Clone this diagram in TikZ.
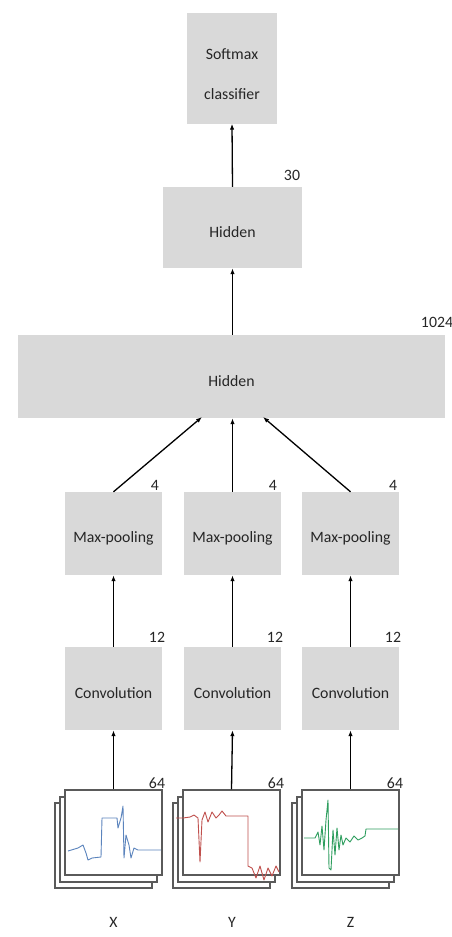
\documentclass[tikz,border=0pt]{standalone}
\usepackage{fontspec}
\setmainfont{Carlito}
\usetikzlibrary{arrows.meta}
\definecolor{boxgray}{HTML}{D9D9D9}
\definecolor{txt}{HTML}{262626}
\definecolor{frm}{HTML}{5A5A5A}
\definecolor{sigblue}{HTML}{5B84BD}
\definecolor{sigred}{HTML}{C0504D}
\definecolor{siggreen}{HTML}{2E9E5E}
\tikzset{
  layer/.style={fill=boxgray, draw=none, inner sep=0pt},
  ltext/.style={text=txt, inner sep=0pt, yshift=-5pt, font=\fontsize{15.8}{18}\selectfont},
  num/.style={text=txt, inner sep=0pt, font=\fontsize{15.8}{18}\selectfont},
  frame/.style={draw=frm, fill=white, line width=1.4pt, minimum width=97pt, minimum height=85pt, inner sep=0pt},
  conn/.style={line width=1.3pt, -{Latex[length=6pt,width=4.5pt]}},
  sig/.style={line width=0.9pt, line join=round}
}
\begin{document}
\begin{tikzpicture}[x=1pt,y=-1pt]
\useasboundingbox (0,0) rectangle (452,937);
% layers
\node[layer, minimum width=90pt, minimum height=111pt, label={[ltext, align=center, yshift=-1pt, font=\fontsize{15.8}{40}\selectfont]center:Softmax\\classifier}] (soft) at (232,68) {};
\node[layer, minimum width=139pt, minimum height=81pt, label={[ltext]center:Hidden}] (hid1) at (232.5,227.5) {};
\node[layer, minimum width=427pt, minimum height=83pt, label={[ltext]center:Hidden}] (big) at (231.5,376.5) {};
\node[layer, minimum width=97pt, minimum height=83pt, label={[ltext]center:Max-pooling}] (mpX) at (113.5,533.5) {};
\node[layer, minimum width=97pt, minimum height=83pt, label={[ltext]center:Max-pooling}] (mpY) at (232.5,533.5) {};
\node[layer, minimum width=97pt, minimum height=83pt, label={[ltext]center:Max-pooling}] (mpZ) at (350.5,533.5) {};
\node[layer, minimum width=97pt, minimum height=83pt, label={[ltext]center:Convolution}] (cvX) at (113.5,688.5) {};
\node[layer, minimum width=97pt, minimum height=83pt, label={[ltext]center:Convolution}] (cvY) at (232.5,688.5) {};
\node[layer, minimum width=97pt, minimum height=83pt, label={[ltext]center:Convolution}] (cvZ) at (350.5,688.5) {};
% signal frames (back to front)
\foreach \n/\cx in {X/113.5, Y/231.5, Z/350.5}{
  \node[frame] (s\n3) at (\cx-10,845.5) {};
  \node[frame] (s\n2) at (\cx-5,839.5) {};
}
\node[frame] (sX) at (113.5,832.5) {};
\node[frame] (sY) at (231.5,832.5) {};
\node[frame] (sZ) at (350.5,832.5) {};
% signals
\draw[sig, sigblue] (68,851) -- (78,848) -- (83,845) -- (86,853) -- (88,860) -- (92,858) -- (101,857) -- (102,818) -- (117,818) -- (118,828) -- (121,818) -- (123,806) -- (124,858) -- (126,835) -- (129,845) -- (131,858) -- (134,848) -- (138,850) -- (161,850);
\draw[sig, sigred] (176,818) -- (183,818) -- (190,817) -- (194,815) -- (198,818) -- (200,862) -- (202,820) -- (205,812) -- (208,822) -- (212,812) -- (216,818) -- (219,815) -- (222,811) -- (226,816) -- (248,816) -- (248,866) -- (252,868) -- (256,878) -- (260,866) -- (264,880) -- (268,868) -- (272,876) -- (276,866) -- (279,872);
\draw[sig, siggreen] (304,838) -- (315,838) -- (318,832) -- (320,845) -- (322,826) -- (324,850) -- (326,820) -- (328,800) -- (329,868) -- (331,870) -- (333,830) -- (335,855) -- (337,828) -- (339,850) -- (341,835) -- (343,845) -- (346,838) -- (350,842) -- (354,836) -- (358,840) -- (362,838) -- (365,836) -- (366,829) -- (398,829);
% size labels
\node[num] (n30) at (292,175) {30};
\node[num] (n1024) at (437,322) {1024};
\node[num] (n4a) at (155,485) {4};
\node[num] (n4b) at (273,485) {4};
\node[num] (n4c) at (393,485) {4};
\node[num] (n12a) at (157,637) {12};
\node[num] (n12b) at (275,637) {12};
\node[num] (n12c) at (393,637) {12};
\node[num] (n64a) at (157,783) {64};
\node[num] (n64b) at (276,783) {64};
\node[num] (n64c) at (395,783) {64};
\node[num] (lX) at (113.5,922) {X};
\node[num] (lY) at (232,922) {Y};
\node[num] (lZ) at (350.5,922) {Z};
% connectors
\coordinate (bl) at (202,417);
\coordinate (br) at (263,417);
\draw[conn] (hid1.north) -- (soft.south);
\draw[conn] (big.north -| hid1.south) -- (hid1.south);
\draw[conn] (mpX.north) -- (bl);
\draw[conn] (mpY.north) -- (mpY.north |- big.south);
\draw[conn] (mpZ.north) -- (br);
\draw[conn] (cvX.north) -- (mpX.south);
\draw[conn] (cvY.north) -- (mpY.south);
\draw[conn] (cvZ.north) -- (mpZ.south);
\draw[conn] (sX.north) -- (cvX.south);
\draw[conn] (sY.north) -- (cvY.south);
\draw[conn] (sZ.north) -- (cvZ.south);
\end{tikzpicture}
\end{document}
